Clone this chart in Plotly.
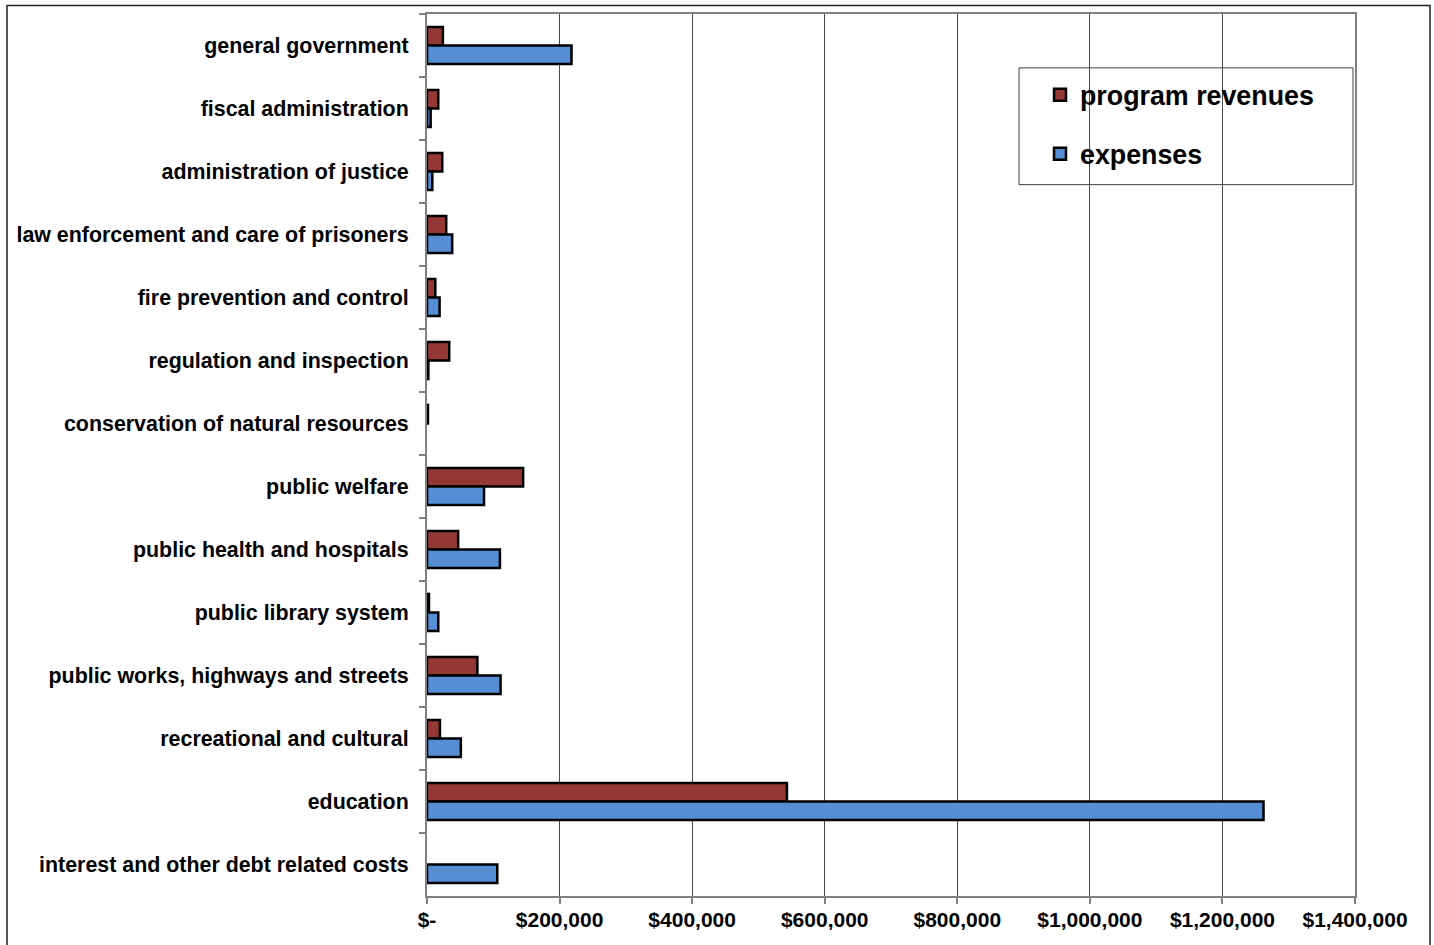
import plotly.graph_objects as go

categories = [
    "general government",
    "fiscal administration",
    "administration of justice",
    "law enforcement and care of prisoners",
    "fire prevention and control",
    "regulation and inspection",
    "conservation of natural resources",
    "public welfare",
    "public health and hospitals",
    "public library system",
    "public works, highways and streets",
    "recreational and cultural",
    "education",
    "interest and other debt related costs",
]

# None = no bar drawn (value of zero / not reported)
program_revenues = [24000, 17000, 23000, 29000, 12500, 33500, 1500, 145000,
                    47000, 3000, 76000, 19500, 543000, None]
expenses = [218000, 5500, 8000, 38000, 19000, 2000, None, 86000,
            110000, 17000, 111000, 51000, 1262000, 106000]

tick_vals = [0, 200000, 400000, 600000, 800000, 1000000, 1200000, 1400000]
tick_text = ["$-", "$200,000", "$400,000", "$600,000", "$800,000",
             "$1,000,000", "$1,200,000", "$1,400,000"]

FONT = "Liberation Sans, Arial, sans-serif"
W, H = 1434, 945
L, R, T, B = 427, 79, 12, 49
pw, ph = W - L - R, H - T - B


def px(x):
    return (x - L) / pw


def py(y):
    return (H - B - y) / ph


fig = go.Figure()
fig.add_trace(go.Bar(
    y=categories, x=program_revenues, orientation="h", name="program revenues",
    marker=dict(color="#953735", line=dict(color="black", width=2.5)),
    legendgroup="a",
))
fig.add_trace(go.Bar(
    y=categories, x=expenses, orientation="h", name="expenses",
    marker=dict(color="#558ED5", line=dict(color="black", width=2.5)),
    legendgroup="b",
))

fig.update_layout(
    width=W, height=H,
    margin=dict(l=L, r=R, t=T, b=B, pad=0),
    paper_bgcolor="white", plot_bgcolor="white",
    barmode="group", bargap=0.41, bargroupgap=0,
    font=dict(family=FONT, size=21, color="black", weight="bold"),
    showlegend=True,
    legend=dict(
        x=px(1040), y=py(69), xanchor="left", yanchor="top",
        bgcolor="rgba(0,0,0,0)", borderwidth=0,
        font=dict(family=FONT, size=26.8, color="black", weight="bold"),
        traceorder="grouped", tracegroupgap=21,
    ),
    xaxis=dict(
        range=[0, 1400000], tickvals=tick_vals, ticktext=tick_text,
        showgrid=True, gridcolor="#4a4a4a", gridwidth=1,
        showline=True, linecolor="#808080", linewidth=2, mirror=True,
        ticks="outside", ticklen=6, tickcolor="#808080", tickwidth=1.5,
        zeroline=False, fixedrange=True,
        tickfont=dict(family=FONT, size=21, color="black", weight="bold"),
        ticklabelstandoff=-2,
    ),
    yaxis=dict(
        categoryorder="array", categoryarray=categories, autorange="reversed",
        showgrid=False,
        showline=True, linecolor="#808080", linewidth=2, mirror=True,
        ticks="outside", ticklen=6, tickcolor="#808080", tickwidth=1.5,
        tickson="boundaries",
        tickfont=dict(family=FONT, size=21.4, color="black", weight="bold"),
        ticklabelstandoff=12,
    ),
    shapes=[
        # legend box
        dict(type="rect", xref="paper", yref="paper",
             x0=px(1019), x1=px(1353), y0=py(183), y1=py(66),
             line=dict(color="#404040", width=1), fillcolor="white",
             layer="below"),
        # outer chart border
        dict(type="rect", xref="paper", yref="paper",
             x0=px(7), x1=px(1430), y0=py(960), y1=py(3.5),
             line=dict(color="#222222", width=1.5), fillcolor="rgba(0,0,0,0)"),
    ],
)

fig.write_html("out.html")
